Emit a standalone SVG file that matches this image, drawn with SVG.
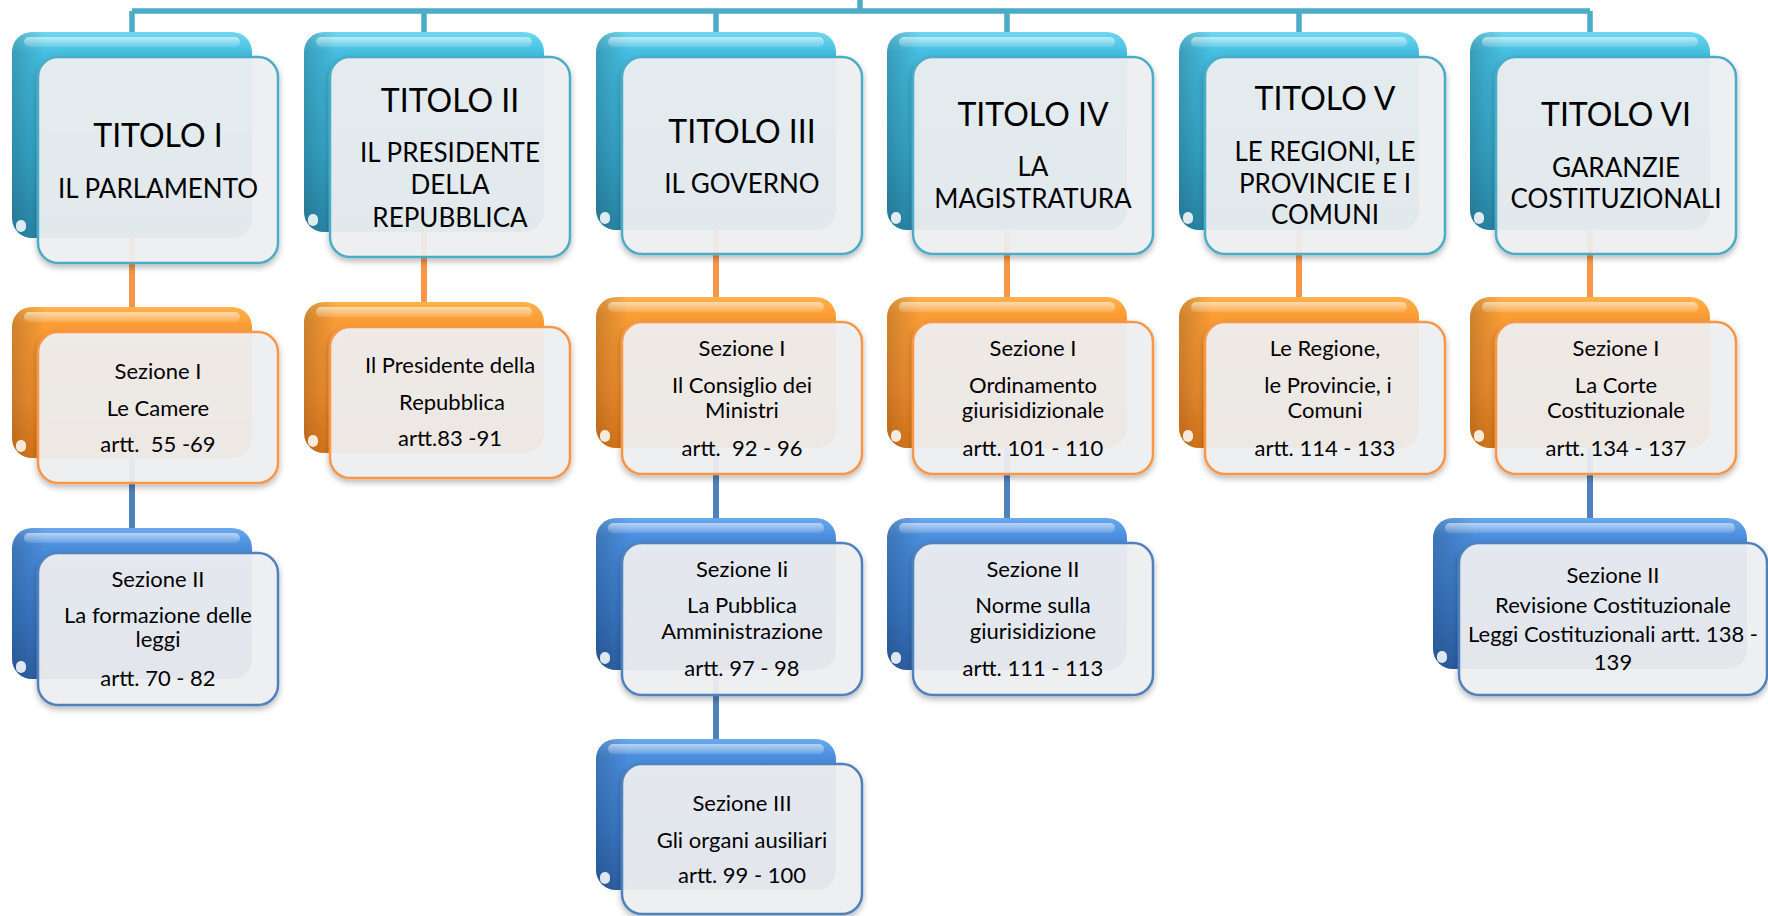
<svg xmlns="http://www.w3.org/2000/svg" width="1768" height="916" viewBox="0 0 1768 916">
<defs>
<linearGradient id="gTeal" x1="0" y1="0" x2="0" y2="1">
<stop offset="0" stop-color="#6fd8f0"/><stop offset="0.1" stop-color="#45bfe2"/><stop offset="0.6" stop-color="#37aacd"/><stop offset="1" stop-color="#2b8eb1"/>
</linearGradient>
<linearGradient id="gOrange" x1="0" y1="0" x2="0" y2="1">
<stop offset="0" stop-color="#ffb24c"/><stop offset="0.12" stop-color="#fb9d35"/><stop offset="0.6" stop-color="#f69230"/><stop offset="1" stop-color="#e27c1c"/>
</linearGradient>
<linearGradient id="gBlue" x1="0" y1="0" x2="0" y2="1">
<stop offset="0" stop-color="#6ba8ee"/><stop offset="0.12" stop-color="#4a8ede"/><stop offset="0.6" stop-color="#3b7ccc"/><stop offset="1" stop-color="#2f65ad"/>
</linearGradient>
<linearGradient id="shadeL" x1="0" y1="0" x2="1" y2="0">
<stop offset="0" stop-color="#000" stop-opacity="0.18"/><stop offset="0.14" stop-color="#000" stop-opacity="0"/><stop offset="1" stop-color="#000" stop-opacity="0"/>
</linearGradient>
<linearGradient id="hl" x1="0" y1="0" x2="0" y2="1">
<stop offset="0" stop-color="#fff" stop-opacity="0.55"/><stop offset="1" stop-color="#fff" stop-opacity="0.12"/>
</linearGradient>
<filter id="ds" x="-10%" y="-10%" width="120%" height="125%">
<feDropShadow dx="0" dy="3" stdDeviation="3" flood-color="#000" flood-opacity="0.3"/>
</filter>
<style>
.bt{fill:url(#gTeal)}
.bo{fill:url(#gOrange)}
.bb{fill:url(#gBlue)}
.sh{fill:url(#shadeL)}
.hl{fill:url(#hl)}
.bv{fill:#fff;fill-opacity:0.85}
.f{fill:#f0f1f2;fill-opacity:0.92;stroke-width:2.5;filter:url(#ds)}
.ft{stroke:#4bacc6}
.fo{stroke:#f79646}
.fb{stroke:#4f81bd}
.ct{stroke:#4bacc6;stroke-width:5.5;fill:none}
.co{stroke:#f79646;stroke-width:6;fill:none}
.cb{stroke:#4f81bd;stroke-width:6;fill:none}
text{font-family:Lato,"Liberation Sans",sans-serif;fill:#000;text-anchor:middle}
.t{font-size:32px}
.s{font-size:26px}
.b{font-size:22px}
</style>
</defs>
<rect width="1768" height="916" fill="#fff"/>
<g id="connectors">
<path class="ct" d="M132 11H1590M860 0V11M132 11V32M424 11V32M716 11V32M1007 11V32M1299 11V32M1590 11V32"/>
<path class="co" d="M132 238V307M424 232V302M716 230V297M1007 230V297M1299 230V297M1590 230V297"/>
<path class="cb" d="M132 458V528M716 448V518M716 670V739M1007 448V518M1590 448V518"/>
</g>
<g id="titolo1">
<rect class="bt" x="12" y="32" width="240" height="206" rx="20"/>
<rect class="sh" x="12" y="32" width="240" height="206" rx="20"/>
<rect class="hl" x="24" y="37" width="216" height="10" rx="5"/>
<rect class="bv" x="16" y="220" width="10" height="12" rx="5"/>
<rect class="f ft" x="38" y="57" width="240" height="206" rx="20"/>
<text class="t" x="158" y="147">TITOLO I</text>
<text class="s" x="158" y="198">IL PARLAMENTO</text>
</g>
<g id="titolo2">
<rect class="bt" x="304" y="32" width="240" height="200" rx="20"/>
<rect class="sh" x="304" y="32" width="240" height="200" rx="20"/>
<rect class="hl" x="316" y="37" width="216" height="10" rx="5"/>
<rect class="bv" x="308" y="214" width="10" height="12" rx="5"/>
<rect class="f ft" x="330" y="57" width="240" height="200" rx="20"/>
<text class="t" x="450" y="112">TITOLO II</text>
<text class="s" x="450" y="162">IL PRESIDENTE</text>
<text class="s" x="450" y="194">DELLA</text>
<text class="s" x="450" y="227">REPUBBLICA</text>
</g>
<g id="titolo3">
<rect class="bt" x="596" y="32" width="240" height="198" rx="20"/>
<rect class="sh" x="596" y="32" width="240" height="198" rx="20"/>
<rect class="hl" x="608" y="37" width="216" height="10" rx="5"/>
<rect class="bv" x="600" y="212" width="10" height="12" rx="5"/>
<rect class="f ft" x="622" y="57" width="240" height="197" rx="20"/>
<text class="t" x="742" y="143">TITOLO III</text>
<text class="s" x="742" y="193">IL GOVERNO</text>
</g>
<g id="titolo4">
<rect class="bt" x="887" y="32" width="240" height="198" rx="20"/>
<rect class="sh" x="887" y="32" width="240" height="198" rx="20"/>
<rect class="hl" x="899" y="37" width="216" height="10" rx="5"/>
<rect class="bv" x="891" y="212" width="10" height="12" rx="5"/>
<rect class="f ft" x="913" y="57" width="240" height="197" rx="20"/>
<text class="t" x="1033" y="126">TITOLO IV</text>
<text class="s" x="1033" y="176">LA</text>
<text class="s" x="1033" y="208">MAGISTRATURA</text>
</g>
<g id="titolo5">
<rect class="bt" x="1179" y="32" width="240" height="198" rx="20"/>
<rect class="sh" x="1179" y="32" width="240" height="198" rx="20"/>
<rect class="hl" x="1191" y="37" width="216" height="10" rx="5"/>
<rect class="bv" x="1183" y="212" width="10" height="12" rx="5"/>
<rect class="f ft" x="1205" y="57" width="240" height="197" rx="20"/>
<text class="t" x="1325" y="110">TITOLO V</text>
<text class="s" x="1325" y="161">LE REGIONI, LE</text>
<text class="s" x="1325" y="193">PROVINCIE E I</text>
<text class="s" x="1325" y="224">COMUNI</text>
</g>
<g id="titolo6">
<rect class="bt" x="1470" y="32" width="240" height="198" rx="20"/>
<rect class="sh" x="1470" y="32" width="240" height="198" rx="20"/>
<rect class="hl" x="1482" y="37" width="216" height="10" rx="5"/>
<rect class="bv" x="1474" y="212" width="10" height="12" rx="5"/>
<rect class="f ft" x="1496" y="57" width="240" height="197" rx="20"/>
<text class="t" x="1616" y="126">TITOLO VI</text>
<text class="s" x="1616" y="177">GARANZIE</text>
<text class="s" x="1616" y="208">COSTITUZIONALI</text>
</g>
<g id="t1-sez1">
<rect class="bo" x="12" y="307" width="240" height="151" rx="20"/>
<rect class="sh" x="12" y="307" width="240" height="151" rx="20"/>
<rect class="hl" x="24" y="312" width="216" height="10" rx="5"/>
<rect class="bv" x="16" y="440" width="10" height="12" rx="5"/>
<rect class="f fo" x="38" y="332" width="240" height="151" rx="20"/>
<text class="b" x="158" y="379">Sezione I</text>
<text class="b" x="158" y="416">Le Camere</text>
<text class="b" x="158" y="452" xml:space="preserve">artt.  55 -69</text>
</g>
<g id="t1-sez2">
<rect class="bb" x="12" y="528" width="240" height="151" rx="20"/>
<rect class="sh" x="12" y="528" width="240" height="151" rx="20"/>
<rect class="hl" x="24" y="533" width="216" height="10" rx="5"/>
<rect class="bv" x="16" y="661" width="10" height="12" rx="5"/>
<rect class="f fb" x="38" y="553" width="240" height="152" rx="20"/>
<text class="b" x="158" y="587">Sezione II</text>
<text class="b" x="158" y="623">La formazione delle</text>
<text class="b" x="158" y="647">leggi</text>
<text class="b" x="158" y="686">artt. 70 - 82</text>
</g>
<g id="t2-pres">
<rect class="bo" x="304" y="302" width="240" height="151" rx="20"/>
<rect class="sh" x="304" y="302" width="240" height="151" rx="20"/>
<rect class="hl" x="316" y="307" width="216" height="10" rx="5"/>
<rect class="bv" x="308" y="435" width="10" height="12" rx="5"/>
<rect class="f fo" x="330" y="327" width="240" height="151" rx="20"/>
<text class="b" x="450" y="373">Il Presidente della</text>
<text class="b" x="452" y="410">Repubblica</text>
<text class="b" x="450" y="446">artt.83 -91</text>
</g>
<g id="t3-sez1">
<rect class="bo" x="596" y="297" width="240" height="151" rx="20"/>
<rect class="sh" x="596" y="297" width="240" height="151" rx="20"/>
<rect class="hl" x="608" y="302" width="216" height="10" rx="5"/>
<rect class="bv" x="600" y="430" width="10" height="12" rx="5"/>
<rect class="f fo" x="622" y="322" width="240" height="152" rx="20"/>
<text class="b" x="742" y="356">Sezione I</text>
<text class="b" x="742" y="393">Il Consiglio dei</text>
<text class="b" x="742" y="418">Ministri</text>
<text class="b" x="742" y="456" xml:space="preserve">artt.  92 - 96</text>
</g>
<g id="t3-sez2">
<rect class="bb" x="596" y="518" width="240" height="152" rx="20"/>
<rect class="sh" x="596" y="518" width="240" height="152" rx="20"/>
<rect class="hl" x="608" y="523" width="216" height="10" rx="5"/>
<rect class="bv" x="600" y="652" width="10" height="12" rx="5"/>
<rect class="f fb" x="622" y="543" width="240" height="152" rx="20"/>
<text class="b" x="742" y="577">Sezione Ii</text>
<text class="b" x="742" y="613">La Pubblica</text>
<text class="b" x="742" y="639">Amministrazione</text>
<text class="b" x="742" y="676">artt. 97 - 98</text>
</g>
<g id="t3-sez3">
<rect class="bb" x="596" y="739" width="240" height="151" rx="20"/>
<rect class="sh" x="596" y="739" width="240" height="151" rx="20"/>
<rect class="hl" x="608" y="744" width="216" height="10" rx="5"/>
<rect class="bv" x="600" y="872" width="10" height="12" rx="5"/>
<rect class="f fb" x="622" y="764" width="240" height="150" rx="20"/>
<text class="b" x="742" y="811">Sezione III</text>
<text class="b" x="742" y="848">Gli organi ausiliari</text>
<text class="b" x="742" y="883">artt. 99 - 100</text>
</g>
<g id="t4-sez1">
<rect class="bo" x="887" y="297" width="240" height="151" rx="20"/>
<rect class="sh" x="887" y="297" width="240" height="151" rx="20"/>
<rect class="hl" x="899" y="302" width="216" height="10" rx="5"/>
<rect class="bv" x="891" y="430" width="10" height="12" rx="5"/>
<rect class="f fo" x="913" y="322" width="240" height="152" rx="20"/>
<text class="b" x="1033" y="356">Sezione I</text>
<text class="b" x="1033" y="393">Ordinamento</text>
<text class="b" x="1033" y="418">giurisidizionale</text>
<text class="b" x="1033" y="456">artt. 101 - 110</text>
</g>
<g id="t4-sez2">
<rect class="bb" x="887" y="518" width="240" height="152" rx="20"/>
<rect class="sh" x="887" y="518" width="240" height="152" rx="20"/>
<rect class="hl" x="899" y="523" width="216" height="10" rx="5"/>
<rect class="bv" x="891" y="652" width="10" height="12" rx="5"/>
<rect class="f fb" x="913" y="543" width="240" height="152" rx="20"/>
<text class="b" x="1033" y="577">Sezione II</text>
<text class="b" x="1033" y="613">Norme sulla</text>
<text class="b" x="1033" y="639">giurisidizione</text>
<text class="b" x="1033" y="676">artt. 111 - 113</text>
</g>
<g id="t5-reg">
<rect class="bo" x="1179" y="297" width="240" height="151" rx="20"/>
<rect class="sh" x="1179" y="297" width="240" height="151" rx="20"/>
<rect class="hl" x="1191" y="302" width="216" height="10" rx="5"/>
<rect class="bv" x="1183" y="430" width="10" height="12" rx="5"/>
<rect class="f fo" x="1205" y="322" width="240" height="152" rx="20"/>
<text class="b" x="1325" y="356">Le Regione,</text>
<text class="b" x="1328" y="393">le Provincie, i</text>
<text class="b" x="1325" y="418">Comuni</text>
<text class="b" x="1325" y="456">artt. 114 - 133</text>
</g>
<g id="t6-sez1">
<rect class="bo" x="1470" y="297" width="240" height="151" rx="20"/>
<rect class="sh" x="1470" y="297" width="240" height="151" rx="20"/>
<rect class="hl" x="1482" y="302" width="216" height="10" rx="5"/>
<rect class="bv" x="1474" y="430" width="10" height="12" rx="5"/>
<rect class="f fo" x="1496" y="322" width="240" height="152" rx="20"/>
<text class="b" x="1616" y="356">Sezione I</text>
<text class="b" x="1616" y="393">La Corte</text>
<text class="b" x="1616" y="418">Costituzionale</text>
<text class="b" x="1616" y="456">artt. 134 - 137</text>
</g>
<g id="t6-sez2">
<rect class="bb" x="1433" y="518" width="314" height="151" rx="20"/>
<rect class="sh" x="1433" y="518" width="314" height="151" rx="20"/>
<rect class="hl" x="1445" y="523" width="290" height="10" rx="5"/>
<rect class="bv" x="1437" y="651" width="10" height="12" rx="5"/>
<rect class="f fb" x="1459" y="543" width="308" height="152" rx="20"/>
<text class="b" x="1613" y="583">Sezione II</text>
<text class="b" x="1613" y="613">Revisione Costituzionale</text>
<text class="b" x="1613" y="642">Leggi Costituzionali artt. 138 -</text>
<text class="b" x="1613" y="670">139</text>
</g>
</svg>
